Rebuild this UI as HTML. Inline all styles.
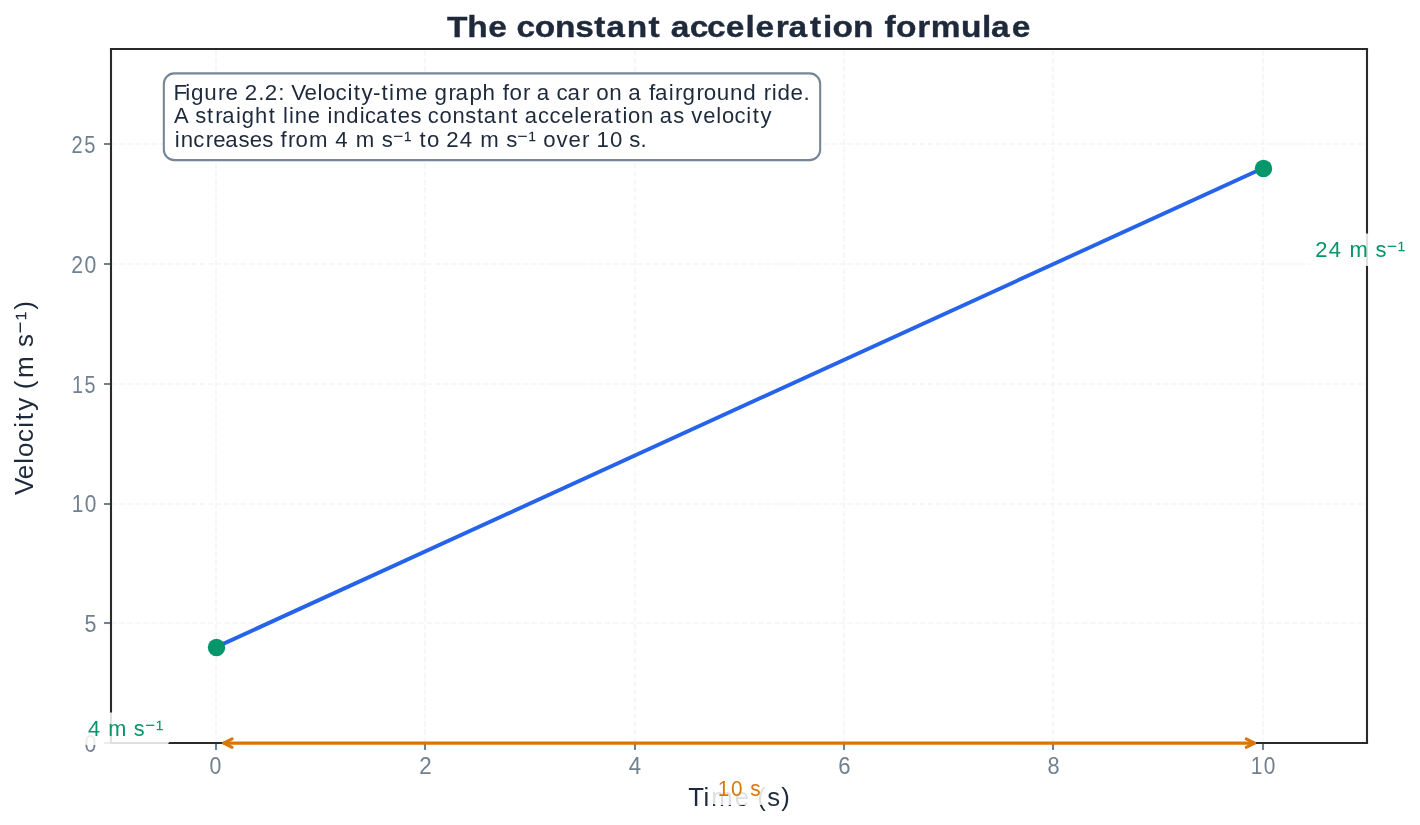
<!DOCTYPE html>
<html><head><meta charset="utf-8"><title>The constant acceleration formulae</title>
<style>html,body{margin:0;padding:0;background:#fff;width:1420px;height:825px;overflow:hidden}svg{display:block;will-change:transform}text{font-family:"Liberation Sans",sans-serif}</style></head>
<body>
<svg width="1420" height="825" viewBox="0 0 1420 825">
<rect x="0" y="0" width="1420" height="825" fill="#fff"/>
<g stroke="#e2e8f0" stroke-opacity="0.45" stroke-width="1.53" stroke-dasharray="5.65 2.44" fill="none"><line x1="216" y1="743.1" x2="216" y2="48.6"/><line x1="425" y1="743.1" x2="425" y2="48.6"/><line x1="635" y1="743.1" x2="635" y2="48.6"/><line x1="844" y1="743.1" x2="844" y2="48.6"/><line x1="1053" y1="743.1" x2="1053" y2="48.6"/><line x1="1263" y1="743.1" x2="1263" y2="48.6"/><line x1="110.9" y1="743" x2="1367.4" y2="743"/><line x1="110.9" y1="623" x2="1367.4" y2="623"/><line x1="110.9" y1="504" x2="1367.4" y2="504"/><line x1="110.9" y1="384" x2="1367.4" y2="384"/><line x1="110.9" y1="264" x2="1367.4" y2="264"/><line x1="110.9" y1="144" x2="1367.4" y2="144"/></g>
<g stroke="#708090" stroke-width="2.08"><line x1="216" y1="743" x2="216" y2="749.94"/><line x1="425" y1="743" x2="425" y2="749.94"/><line x1="635" y1="743" x2="635" y2="749.94"/><line x1="844" y1="743" x2="844" y2="749.94"/><line x1="1053" y1="743" x2="1053" y2="749.94"/><line x1="1263" y1="743" x2="1263" y2="749.94"/><line x1="111" y1="743" x2="104.06" y2="743"/><line x1="111" y1="623" x2="104.06" y2="623"/><line x1="111" y1="504" x2="104.06" y2="504"/><line x1="111" y1="384" x2="104.06" y2="384"/><line x1="111" y1="264" x2="104.06" y2="264"/><line x1="111" y1="144" x2="104.06" y2="144"/></g>
<text transform="scale(0.9229,1)" font-size="23.12" fill="#708090" xml:space="preserve"><tspan x="227.07" y="774.08">0</tspan></text>
<text transform="scale(0.9684,1)" font-size="23.12" fill="#708090" xml:space="preserve"><tspan x="432.95" y="774.23">2</tspan></text>
<text transform="scale(0.9613,1)" font-size="23.12" fill="#708090" xml:space="preserve"><tspan x="654.18" y="774.09">4</tspan></text>
<text transform="scale(0.9561,1)" font-size="23.12" fill="#708090" xml:space="preserve"><tspan x="876.75" y="774.08">6</tspan></text>
<text transform="scale(0.9402,1)" font-size="23.12" fill="#708090" xml:space="preserve"><tspan x="1114.08" y="774.08">8</tspan></text>
<text transform="scale(0.9037,1)" font-size="23.12" fill="#708090" xml:space="preserve"><tspan x="1383.97 1398.34" y="774.08">10</tspan></text>
<text transform="translate(0,1) scale(0.9229,1)" font-size="23.12" fill="#708090" xml:space="preserve"><tspan x="91.63" y="751.08">0</tspan></text>
<text transform="translate(0,1) scale(0.9305,1)" font-size="23.12" fill="#708090" xml:space="preserve"><tspan x="90.85" y="630.95">5</tspan></text>
<text transform="scale(0.9037,1)" font-size="23.12" fill="#708090" xml:space="preserve"><tspan x="79.34 93.71" y="512.08">10</tspan></text>
<text transform="translate(0,1) scale(0.8533,1)" font-size="23.12" fill="#708090" xml:space="preserve"><tspan x="84.29 99.01" y="391.95">15</tspan></text>
<text transform="translate(0,1) scale(0.9173,1)" font-size="23.12" fill="#708090" xml:space="preserve"><tspan x="77.66 92.16" y="272.08">20</tspan></text>
<text transform="translate(0,1) scale(0.8682,1)" font-size="23.12" fill="#708090" xml:space="preserve"><tspan x="82.29 97.13" y="152.08">25</tspan></text>
<text transform="scale(0.9883,1)" font-size="26.0" fill="#1e293b" xml:space="preserve"><tspan x="696.39 711.86 719.75 743.36 758.29 766.24 776.38 790.51" y="806.35">Time (s)</tspan></text>
<text transform="translate(32.90,1) rotate(-90) scale(1.0276,1)" font-size="25.25" fill="#1e293b" xml:space="preserve"><tspan x="-480.66 -465.32 -450.32 -443.74 -429.23 -415.39 -408.04 -398.85 -385.35 -377.75 -366.81 -344.54 -336.65" y="0">Velocity (m s</tspan><tspan x="-323.69" y="-5.83" font-size="20.20">−</tspan><tspan x="-310.79 -300.49" y="0">¹)</tspan></text>
<g stroke="#2a2a2a" stroke-width="2.08" stroke-linecap="square"><line x1="111" y1="49" x2="111" y2="743"/><line x1="1367" y1="49" x2="1367" y2="743"/><line x1="111" y1="49" x2="1367" y2="49"/><line x1="111" y1="743" x2="1367" y2="743"/></g>
<line x1="215.608" y1="647.307" x2="1262.691" y2="168.341" stroke="#2563eb" stroke-width="3.89" stroke-linecap="square"/>
<circle cx="216.5" cy="647.5" r="8.68" fill="#059669"/><circle cx="1263.5" cy="168.5" r="8.68" fill="#059669"/>
<g stroke="#d97706" stroke-width="3.056" stroke-linecap="round" stroke-linejoin="round" fill="none"><path d="M223.75 743.1H1254.56"/><path d="M232.08 747.27L223.75 743.1L232.08 738.93"/><path d="M1246.22 738.93L1254.56 743.1L1246.22 747.27"/></g>
<rect x="710.9" y="772.49" width="56.50" height="32.50" rx="6.25" fill="#fff" fill-opacity="0.85"/>
<text transform="scale(0.9310,1)" font-size="22.29" fill="#d97706" xml:space="preserve"><tspan x="771.02 785.19 798.43 805.80" y="796.08">10 s</tspan></text>
<rect x="80.81" y="712.48" width="89.50" height="32.50" rx="6.25" fill="#fff" fill-opacity="0.85"/>
<text transform="translate(0,1) scale(0.9841,1)" font-size="22.08" fill="#059669" xml:space="preserve"><tspan x="89.33 102.16 109.91 129.27 136.04" y="735.0">4 m s</tspan><tspan x="147.26" y="730.42" font-size="17.66">−</tspan><tspan x="158.43" y="735.0">¹</tspan></text>
<rect x="1308.7" y="233.52" width="102.75" height="32.50" rx="6.25" fill="#fff" fill-opacity="0.85"/>
<text transform="translate(0,1) scale(1.0035,1)" font-size="21.87" fill="#059669" xml:space="preserve"><tspan x="1310.62 1324.20 1336.94 1344.71 1363.95 1370.72" y="256.08">24 m s</tspan><tspan x="1381.89" y="251.45" font-size="17.50">−</tspan><tspan x="1393.01" y="256.08">¹</tspan></text>
<rect x="163.83" y="73.39" width="656.34" height="86.73" rx="10.42" fill="#fff" fill-opacity="0.95" stroke="#708090" stroke-opacity="0.95" stroke-width="2.08"/>
<text transform="scale(1.0233,1)" font-size="21.87" fill="#1e293b" xml:space="preserve"><tspan x="169.52 181.05 186.57 199.57 213.09 220.31 232.63 239.24 252.27 258.69 271.93 278.40 284.55 297.48 310.19 315.61 327.82 339.55 345.70 353.35 364.54 372.76 380.26 386.39 405.60 417.92 424.67 438.27 445.11 458.72 471.54 484.07 491.36 497.89 511.14 518.59 524.45 537.56 543.93 554.64 568.67 576.12 582.77 595.50 608.00 613.87 626.97 634.26 640.02 653.54 659.72 667.08 680.68 687.84 700.49 713.49 726.26 738.93 746.34 754.21 759.73 772.63 785.14" y="99.75">Figure 2.2: Velocity-time graph for a car on a fairground ride.</tspan></text>
<text transform="scale(1.0058,1)" font-size="21.87" fill="#1e293b" xml:space="preserve"><tspan x="173.03 187.42 194.10 205.80 213.99 220.99 234.67 240.35 253.65 267.27 274.43 281.48 287.25 293.09 306.05 318.47 325.53 331.37 344.36 357.62 362.91 373.82 388.01 395.52 408.02 418.75 425.34 437.02 449.99 462.68 474.38 481.04 494.80 508.38 515.54 521.63 534.84 546.25 558.01 570.89 576.54 589.99 596.99 611.18 618.81 624.38 637.34 649.95 656.04 669.35 680.08 687.34 699.29 712.17 717.75 730.16 742.05 748.32 756.15" y="122.75">A straight line indicates constant acceleration as velocity</tspan></text>
<text transform="scale(1.0162,1)" font-size="21.87" fill="#1e293b" xml:space="preserve"><tspan x="172.08 177.81 190.28 202.59 209.87 221.65 234.82 245.75 258.13 268.79 276.15 283.50 290.71 304.00 323.04 330.00 342.62 350.07 369.12 375.66" y="146.77">increases from 4 m s</tspan><tspan x="386.63" y="142.13" font-size="17.50">−</tspan><tspan x="397.57 405.38 412.83 420.15 432.50 439.19 452.51 465.12 472.58 491.63 498.17" y="146.77">¹ to 24 m s</tspan><tspan x="509.14" y="142.13" font-size="17.50">−</tspan><tspan x="520.07 527.89 534.61 547.56 559.37 572.69 580.16 587.00 600.17 612.78 619.33 630.20" y="146.77">¹ over 10 s.</tspan></text>
<text transform="scale(1.1150,1)" font-size="30.04" font-weight="bold" fill="#1e293b" stroke="#1e293b" stroke-width="0.35" xml:space="preserve"><tspan x="400.84 419.00 437.86 455.21 463.22 479.56 497.83 515.84 532.93 543.75 562.04 581.60 592.96 601.50 618.59 634.06 650.96 668.62 677.61 695.84 707.28 726.55 738.23 746.65 764.93 783.38 793.22 803.61 822.64 834.86 861.92 880.71 888.80 907.31" y="36.87">The constant acceleration formulae</tspan></text>
</svg>
</body></html>
